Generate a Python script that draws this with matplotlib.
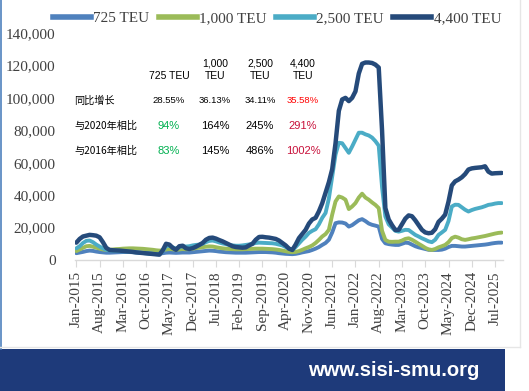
import matplotlib
matplotlib.use("Agg")
import matplotlib.pyplot as plt
from matplotlib.patches import Rectangle
from matplotlib.lines import Line2D

# ---------------- data ----------------
series_names = ["725 TEU", "1,000 TEU", "2,500 TEU", "4,400 TEU"]
colors = ["#4F81BD", "#9BBB59", "#4BACC6", "#254A7A"]

teu725 = [4200, 4600, 5000, 5500, 5800, 5600, 5200, 4900, 4700, 4500,
          4500, 4600, 4700, 4800, 4900, 4900, 4900, 4800, 4700, 4600,
          4500, 4400, 4300, 4200, 4100, 4000, 4200, 4500, 4600, 4500,
          4400, 4500, 4600, 4600, 4600, 4800, 5000, 5200, 5400, 5600,
          5800, 5700, 5500, 5200, 5000, 4800, 4700, 4600, 4500, 4500,
          4500, 4500, 4600, 4700, 4800, 4900, 4900, 4900, 4800, 4700,
          4500, 4200, 4000, 3800, 3700, 3600, 3800, 4200, 4700, 5100,
          5500, 6200, 7000, 8000, 9300, 10500, 12500, 17000, 22700, 23200,
          23100, 22500, 20600, 21500, 23000, 24500, 25200, 24000, 22500, 21700,
          21200, 20600, 13000, 10300, 9800, 9500, 9300, 9300, 10000, 10700,
          10500, 9500, 8500, 7800, 7300, 6800, 6300, 6200, 6200, 6200,
          6400, 7000, 8000, 8700, 8700, 8500, 8300, 8300, 8500, 8700,
          8900, 9100, 9300, 9500, 9800, 10200, 10500, 10700, 10700]

teu1000 = [5500, 6500, 7500, 8500, 8700, 8200, 7600, 7000, 6500, 6200,
           6300, 6500, 6700, 6800, 7000, 7100, 7200, 7200, 7100, 7000,
           6900, 6700, 6500, 6300, 6000, 5800, 6000, 6500, 6800, 6600,
           6300, 6500, 6800, 6600, 6700, 7000, 7300, 7600, 7900, 8200,
           8400, 8300, 7900, 7500, 7200, 7000, 6800, 6700, 6600, 6600,
           6600, 6700, 6800, 6900, 7000, 7000, 7000, 6900, 6800, 6700,
           6500, 6200, 5800, 5400, 5000, 4800, 5000, 5500, 6300, 7200,
           8000, 9000, 10500, 12400, 14500, 16000, 18600, 28000, 36100, 39200,
           38500, 37200, 31400, 33000, 35100, 38500, 40900, 38500, 37200, 35500,
           34000, 32000, 18000, 12400, 11300, 11200, 11300, 11300, 12000, 13000,
           13400, 12500, 11300, 10000, 8800, 7500, 6500, 6200, 6800, 7800,
           8500, 9300, 11000, 13500, 14400, 13800, 12800, 12400, 12800, 13300,
           13600, 14000, 14400, 14800, 15300, 15800, 16300, 16700, 16900]

teu2500 = [7200, 8500, 10500, 11800, 12000, 11000, 9500, 8300, 7200, 6300,
           6000, 5700, 5600, 5500, 5400, 5300, 5100, 4900, 4700, 4500,
           4300, 4100, 3900, 3800, 3600, 3500, 5500, 8500, 8800, 7800,
           7000, 8000, 8500, 8300, 8500, 9000, 9300, 9500, 10000, 11000,
           11800, 12000, 11500, 10800, 10200, 9800, 9300, 9000, 8800, 8800,
           9000, 9300, 9600, 10000, 10500, 10700, 10600, 10500, 10400, 10300,
           10000, 9500, 9000, 8000, 7000, 6200, 8000, 10300, 12500, 14400,
           16700, 18000, 19000, 22000, 26000, 29000, 38000, 51600, 65000, 72300,
           72000, 69000, 66100, 70000, 74300, 78500, 78500, 77500, 76800, 75500,
           73300, 70500, 45000, 26800, 22000, 20000, 18000, 17500, 18000, 18600,
           18500, 17000, 15500, 14500, 13400, 12500, 11500, 11000, 12500, 15500,
           17000, 18600, 24000, 33000, 34100, 34000, 32500, 31000, 29900, 30800,
           31500, 32000, 32500, 33200, 34000, 34300, 34800, 35100, 35100]

teu4400 = [10700, 13000, 14500, 15000, 15500, 15300, 15000, 14000, 11000, 7500,
           6200, 6000, 5900, 5800, 5600, 5400, 5200, 5000, 4700, 4500,
           4300, 4100, 3900, 3700, 3500, 3300, 6000, 10000, 9500, 7500,
           6300, 8500, 8800, 7200, 6800, 7300, 8200, 9300, 10500, 12500,
           13600, 13800, 13200, 12300, 11500, 10500, 9500, 8500, 8000, 7800,
           7600, 7800, 9000, 10000, 12500, 14200, 14300, 14000, 13800, 13400,
           13000, 12000, 10500, 9000, 7000, 6200, 9500, 13500, 16000, 18600,
           22500, 25000, 26000, 30000, 35000, 41500, 48000, 56000, 72000, 92000,
           99000, 100000, 98000, 100000, 104000, 115000, 121000, 121800, 121800, 121500,
           120500, 118700, 80000, 32000, 25000, 21500, 18500, 18600, 22000, 25500,
           27500, 27000, 24500, 21500, 18600, 17000, 16500, 16800, 19000, 23500,
           25500, 28000, 36000, 46000, 48500, 49600, 51000, 53000, 55800, 56500,
           56800, 57000, 57200, 57800, 54500, 53300, 53500, 53600, 53700]

month_names = ["Jan", "Feb", "Mar", "Apr", "May", "Jun",
               "Jul", "Aug", "Sep", "Oct", "Nov", "Dec"]
n_points = len(teu4400)
categories = [f"{month_names[i % 12]}-{2015 + i // 12}" for i in range(n_points)]
tick_step = 7

yticks = [0, 20000, 40000, 60000, 80000, 100000, 120000, 140000]

# annotation table
col_headers = ["725 TEU", "1,000\nTEU", "2,500\nTEU", "4,400\nTEU"]
row_labels = ["同比增长", "与2020年相比", "与2016年相比"]
row_yoy = ["28.55%", "36.13%", "34.11%", "35.58%"]
row_2020 = ["94%", "164%", "245%", "291%"]
row_2016 = ["83%", "145%", "486%", "1002%"]

# ---------------- figure ----------------
W, H = 529, 391
fig = plt.figure(figsize=(W / 100, H / 100), dpi=100)
fig.patch.set_facecolor("white")

def fx(px):
    return px / W

def fy(py):
    return 1 - py / H

ax = fig.add_axes([fx(75), fy(260), fx(503) - fx(75), fy(33) - fy(260)])
x = list(range(n_points))
for vals, name, c in zip([teu725, teu1000, teu2500, teu4400], series_names, colors):
    lw = 3.2 if name == "4,400 TEU" else 2.8
    ax.plot(x, vals, color=c, lw=lw, label=name, solid_capstyle="round",
            solid_joinstyle="round")

ax.set_ylim(0, 140000)
ax.set_xlim(-0.4, n_points - 0.6)
ax.set_yticks(yticks)
ax.set_yticklabels([f"{v:,}" for v in yticks], family="Liberation Serif",
                   fontsize=11, color="#404040")
ticks = list(range(0, n_points, tick_step))
ax.set_xticks(ticks)
ax.set_xticklabels([categories[i] for i in ticks], rotation=90,
                   family="Liberation Serif", fontsize=11, color="#404040")
for s in ["top", "right", "left"]:
    ax.spines[s].set_visible(False)
ax.spines["bottom"].set_color("#D9D9D9")
ax.spines["bottom"].set_linewidth(1.0)
ax.tick_params(axis="y", length=0, pad=14)
ax.tick_params(axis="x", length=5, color="#D9D9D9", pad=3)
ax.set_facecolor("none")

# legend
handles = [Line2D([0], [0], color=c, lw=4) for c in colors]
fig.legend(handles, series_names, ncol=4, loc="center",
           bbox_to_anchor=(fx(277), fy(18)), frameon=False,
           prop={"family": "Liberation Serif", "size": 11},
           handlelength=2.5, handletextpad=0.15, columnspacing=0.6,
           labelcolor="#404040")

# annotation table
cjk = ["Noto Sans CJK SC", "DejaVu Sans"]
col_x = [169, 215, 260, 303]
for cx, h in zip(col_x, col_headers):
    fig.text(fx(cx), fy(81), h, ha="center", va="bottom",
             family="Liberation Sans", fontsize=7.5, color="black",
             linespacing=1.35)
for ly, lab in zip([100.5, 126, 151], row_labels):
    fig.text(fx(74), fy(ly), lab, ha="left", va="center", family=cjk,
             fontsize=7.3, color="black")
for i, (cx, v) in enumerate(zip(col_x, row_yoy)):
    fig.text(fx(cx), fy(100.5), v, ha="center", va="center",
             family="Liberation Sans", fontsize=6.8,
             color="#FF0000" if i == 3 else "black")
for ly, row in zip([126, 151], [row_2020, row_2016]):
    for i, (cx, v) in enumerate(zip(col_x, row)):
        c = "#00B050" if i == 0 else ("#C8103A" if i == 3 else "black")
        fig.text(fx(cx), fy(ly), v, ha="center", va="center",
                 family="Liberation Sans", fontsize=8, color=c)

# frame decorations
fig.add_artist(Line2D([fx(0.8), fx(0.8)], [fy(0), fy(349)], color="#4F81BD", lw=1.2))
fig.add_artist(Line2D([fx(0), fx(520)], [fy(347), fy(347)], color="#E6E6E6", lw=1.0))
fig.add_artist(Line2D([fx(520), fx(520)], [fy(0), fy(347)], color="#E6E6E6", lw=1.0))
fig.add_artist(Rectangle((fx(0), fy(391)), fx(505), fy(349) - fy(391),
                         transform=fig.transFigure, facecolor="#1E3A7A",
                         edgecolor="none"))
fig.text(fx(394), fy(371), "www.sisi-smu.org", ha="center", va="center",
         family="Liberation Sans", fontweight="bold", fontsize=14.5,
         color="white")

fig.savefig("out.png", dpi=100)
